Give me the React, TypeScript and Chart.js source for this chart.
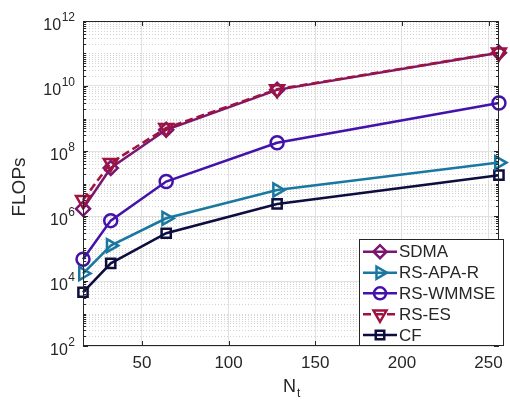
import React, { useEffect, useRef } from 'react';
import { Chart, registerables } from 'chart.js';
import { drawPoint } from 'chart.js/helpers';

Chart.register(...registerables);

// ---- data ----
const NT = [16, 32, 64, 128, 256];
const SDMA = [1.66e6, 3.0e7, 4.5e8, 7.6e9, 1.05e11];
const RS_APA_R = [1.7e4, 1.23e5, 8.5e5, 6.3e6, 4.4e7];
const RS_WMMSE = [4.7e4, 7.2e5, 1.15e7, 1.8e8, 3.0e9];
const RS_ES = [3.1e6, 4.3e7, 5.1e8, 7.9e9, 1.07e11];
const CF = [4.5e3, 3.5e4, 2.95e5, 2.35e6, 1.8e7];
const SERIES_NAMES = ['SDMA', 'RS-APA-R', 'RS-WMMSE', 'RS-ES', 'CF'];
const SERIES_VALUES = [SDMA, RS_APA_R, RS_WMMSE, RS_ES, CF];
const X_TICKS = [50, 100, 150, 200, 250];
const Y_EXPONENTS = [2, 4, 6, 8, 10, 12];

// ---- styles ----
const COLORS = ['#7a1670', '#1a78a0', '#4212aa', '#a0123f', '#0d0d3f'];
const POINT_STYLES = ['rectRot', 'triangle', 'circle', 'triangle', 'rect'];
const POINT_ROT = [0, 90, 0, 180, 0];
const POINT_RADIUS = [7, 7.5, 6.5, 8, 6.5];
const DASHES: number[][] = [[], [], [], [8, 4], [], []];
const DRAW_ORDER = [2, 1, 1, 0, 1];
const LINE_W = 2.5;
const FONT = '"Liberation Sans", Arial, sans-serif';
const TEXT = '#262626';

const isEvenDecade = (v: number) => {
  const e = Math.log10(v);
  const r = Math.round(e);
  return Math.abs(e - r) < 1e-9 && r % 2 === 0;
};

const matlabPlugin = {
  id: 'matlabDecor',
  beforeDatasetsDraw(chart: any) {
    const { ctx, chartArea: a, scales } = chart;
    const y = scales.y;
    ctx.save();
    ctx.strokeStyle = '#d4d4d4';
    ctx.lineWidth = 1;
    ctx.setLineDash([1, 2]);
    y.ticks.forEach((t: any) => {
      if (isEvenDecade(t.value)) return;
      const py = Math.round(y.getPixelForValue(t.value)) + 0.5;
      ctx.beginPath();
      ctx.moveTo(a.left, py);
      ctx.lineTo(a.right, py);
      ctx.stroke();
    });
    ctx.restore();
  },
  afterDatasetsDraw(chart: any) {
    const { ctx, chartArea: a, scales } = chart;
    const x = scales.x;
    const y = scales.y;
    ctx.save();
    // axis box
    ctx.strokeStyle = TEXT;
    ctx.lineWidth = 1;
    ctx.setLineDash([]);
    ctx.strokeRect(Math.round(a.left) + 0.5, Math.round(a.top) + 0.5, Math.round(a.right - a.left) - 1, Math.round(a.bottom - a.top) - 1);
    // y tick marks (inside, both sides)
    y.ticks.forEach((t: any) => {
      const py = Math.round(y.getPixelForValue(t.value)) + 0.5;
      const len = isEvenDecade(t.value) ? 5 : 3;
      ctx.beginPath();
      ctx.moveTo(a.left, py);
      ctx.lineTo(a.left + len, py);
      ctx.moveTo(a.right, py);
      ctx.lineTo(a.right - len, py);
      ctx.stroke();
    });
    // x tick marks
    x.ticks.forEach((t: any) => {
      const px = Math.round(x.getPixelForValue(t.value)) + 0.5;
      ctx.beginPath();
      ctx.moveTo(px, a.bottom);
      ctx.lineTo(px, a.bottom - 5);
      ctx.moveTo(px, a.top);
      ctx.lineTo(px, a.top + 5);
      ctx.stroke();
    });
    // y tick labels 10^n
    ctx.fillStyle = TEXT;
    ctx.textBaseline = 'middle';
    Y_EXPONENTS.forEach((e) => {
      const py = y.getPixelForValue(Math.pow(10, e));
      const exp = String(e);
      ctx.font = `12px ${FONT}`;
      const ew = ctx.measureText(exp).width;
      ctx.textAlign = 'right';
      ctx.fillText(exp, 75, py - 3);
      ctx.font = `16px ${FONT}`;
      ctx.fillText('10', 75 - ew - 0.5, py + 5);
    });
    // y title
    ctx.save();
    ctx.translate(20, 187);
    ctx.rotate(-Math.PI / 2);
    ctx.font = `19px ${FONT}`;
    ctx.textAlign = 'center';
    ctx.fillText('FLOPs', 0, 0);
    ctx.restore();
    // x title N_t
    ctx.font = `18px ${FONT}`;
    ctx.textAlign = 'left';
    ctx.fillText('N', 283, 387);
    const nw = ctx.measureText('N').width;
    ctx.font = `12px ${FONT}`;
    ctx.fillText('t', 283 + nw + 1, 394);
    // legend
    const lx0 = 359.5, ly0 = 239.5, lx1 = 503.5, ly1 = 345.5;
    ctx.fillStyle = '#ffffff';
    ctx.fillRect(lx0, ly0, lx1 - lx0, ly1 - ly0);
    ctx.strokeStyle = TEXT;
    ctx.lineWidth = 1;
    ctx.strokeRect(lx0, ly0, lx1 - lx0, ly1 - ly0);
    const rowY = [251.7, 272.7, 293.3, 314.3, 335];
    SERIES_NAMES.forEach((name, i) => {
      const ry = rowY[i];
      ctx.strokeStyle = COLORS[i];
      ctx.lineWidth = LINE_W;
      ctx.setLineDash(DASHES[i]);
      ctx.beginPath();
      ctx.moveTo(363, ry);
      ctx.lineTo(397, ry);
      ctx.stroke();
      ctx.setLineDash([]);
      ctx.fillStyle = 'rgba(0,0,0,0)';
      drawPoint(ctx, {
        pointStyle: POINT_STYLES[i],
        rotation: POINT_ROT[i],
        radius: POINT_RADIUS[i] - 0.5,
        borderWidth: LINE_W,
      } as any, 380, ry);
      ctx.fillStyle = TEXT;
      ctx.font = `17px ${FONT}`;
      ctx.textAlign = 'left';
      ctx.textBaseline = 'middle';
      ctx.fillText(name, 399, ry + 1);
    });
    ctx.restore();
  },
};

export default function App() {
  const ref = useRef<HTMLCanvasElement | null>(null);
  useEffect(() => {
    if (!ref.current) return;
    const datasets = SERIES_NAMES.map((name, i) => ({
      label: name,
      data: NT.map((n, k) => ({ x: n, y: SERIES_VALUES[i][k] })),
      borderColor: COLORS[i],
      backgroundColor: 'rgba(0,0,0,0)',
      pointBackgroundColor: 'rgba(0,0,0,0)',
      pointBorderColor: COLORS[i],
      pointStyle: POINT_STYLES[i],
      pointRotation: POINT_ROT[i],
      pointRadius: POINT_RADIUS[i],
      pointBorderWidth: LINE_W,
      borderWidth: LINE_W,
      borderDash: DASHES[i],
      tension: 0,
      clip: false as any,
      order: DRAW_ORDER[i],
    }));
    const chart = new Chart(ref.current, {
      type: 'line',
      data: { datasets },
      options: {
        responsive: false,
        animation: false,
        events: [],
        layout: { padding: { top: 21, right: 6, left: 0, bottom: 0 } },
        plugins: { legend: { display: false }, tooltip: { enabled: false } },
        scales: {
          x: {
            type: 'linear',
            min: 16,
            max: 256,
            afterBuildTicks: (s: any) => {
              s.ticks = X_TICKS.map((v) => ({ value: v }));
            },
            afterFit: (s: any) => {
              s.height = 54;
            },
            grid: { color: '#e2e2e2', lineWidth: 1, drawTicks: false },
            border: { display: false },
            ticks: {
              color: TEXT,
              font: { family: FONT, size: 17 },
              padding: 7,
              maxRotation: 0,
              autoSkip: false,
            },
          },
          y: {
            type: 'logarithmic',
            min: 1e2,
            max: 1e12,
            afterBuildTicks: (s: any) => {
              const t: any[] = [];
              for (let e = 2; e < 12; e++) {
                for (let m = 1; m <= 9; m++) t.push({ value: m * Math.pow(10, e) });
              }
              t.push({ value: 1e12 });
              s.ticks = t;
            },
            afterFit: (s: any) => {
              s.width = 83;
            },
            grid: {
              color: (c: any) => (c.tick && isEvenDecade(c.tick.value) ? '#e2e2e2' : 'rgba(0,0,0,0)'),
              lineWidth: 1,
              drawTicks: false,
            },
            border: { display: false },
            ticks: { display: false },
          },
        },
      },
      plugins: [matlabPlugin],
    });
    return () => chart.destroy();
  }, []);
  return (
    <div style={{ position: 'absolute', left: 0, top: 0, width: 510, height: 400, background: '#fff' }}>
      <canvas ref={ref} width={510} height={400} style={{ display: 'block' }} />
    </div>
  );
}
